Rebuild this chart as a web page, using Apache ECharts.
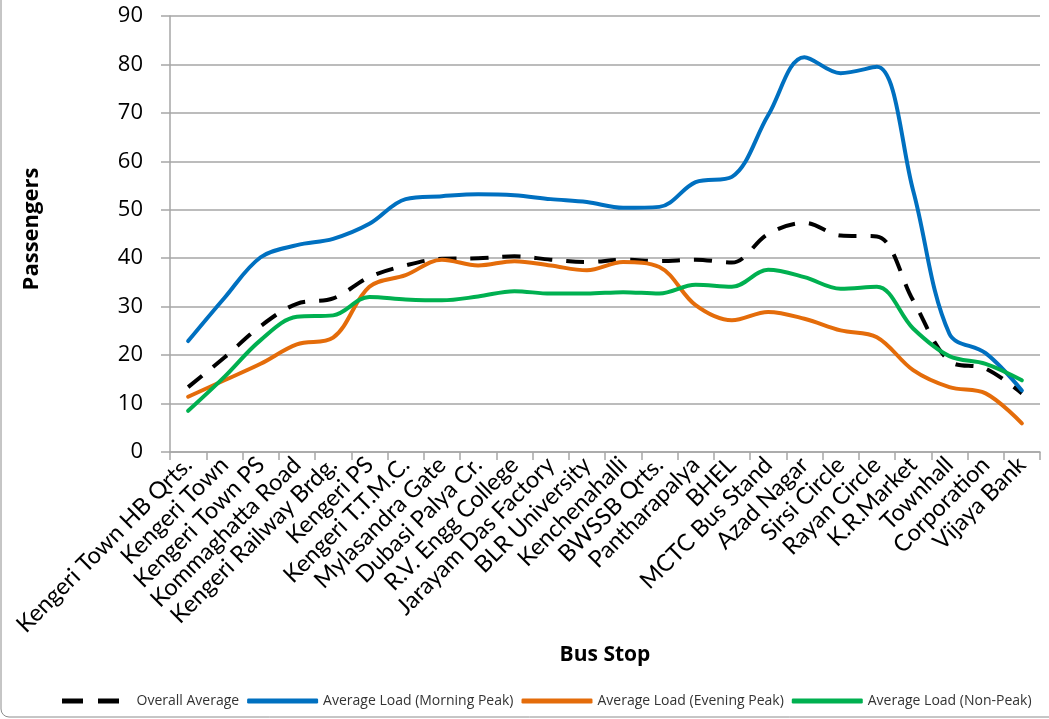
<!DOCTYPE html>
<html>
<head>
<meta charset="utf-8">
<script src="https://cdn.jsdelivr.net/npm/echarts@6/dist/echarts.min.js"></script>
<style>
  html, body { margin: 0; padding: 0; background: #fff; }
  #chart { width: 1049px; height: 719px; }
</style>
</head>
<body>
<div id="chart"></div>
<script>
// Bus stops along the route, in travel order
const busStops = [
  'Kengeri Town HB Qrts.', 'Kengeri Town', 'Kengeri Town PS', 'Kommaghatta Road',
  'Kengeri Railway Brdg.', 'Kengeri PS', 'Kengeri T.T.M.C.', 'Mylasandra Gate',
  'Dubasi Palya Cr.', 'R.V. Engg College', 'Jarayam Das Factory', 'BLR University',
  'Kenchenahalli', 'BWSSB Qrts.', 'Pantharapalya', 'BHEL', 'MCTC Bus Stand',
  'Azad Nagar', 'Sirsi Circle', 'Rayan Circle', 'K.R.Market', 'Townhall',
  'Corporation', 'Vijaya Bank'
];

// Average passenger load per stop
const overallAverage = [13.4, 19.5, 26, 30.6, 31.7, 36.1, 38.5, 39.9, 40.0, 40.4, 39.7, 39.2,
  39.7, 39.4, 39.7, 39.1, 45.0, 47.3, 44.7, 44.5, 31.3, 18.8, 17.2, 12.1];
const morningPeak = [22.9, 31.8, 40.2, 42.7, 44.0, 47.1, 52.2, 52.8, 53.2, 53.0, 52.2, 51.6,
  50.4, 50.6, 55.7, 56.8, 69.5, 81.5, 78.2, 79.5, 54.0, 24.4, 20.4, 12.7];
const eveningPeak = [11.4, 14.8, 18.2, 22.2, 23.6, 34.1, 36.5, 39.7, 38.5, 39.4, 38.5, 37.5,
  39.2, 38.2, 30.3, 27.2, 28.9, 27.5, 25.1, 23.7, 16.9, 13.4, 12.1, 5.9];
const nonPeak = [8.5, 15.5, 23.1, 27.9, 28.2, 32.0, 31.5, 31.3, 32.1, 33.2, 32.7, 32.7,
  33.0, 32.7, 34.5, 34.1, 37.6, 36.1, 33.7, 34.1, 25.5, 19.8, 18.2, 14.8];

const yTicks = { min: 0, max: 90, step: 10 };

const FONT = '"Open Sans", "Liberation Sans", sans-serif';
const LABEL_FONT = 'Lato, "Open Sans", sans-serif';
const GRID_COLOR = '#a6a6a6';

// Legend swatches: two short dashes (left-aligned in the swatch box) for the average,
// a rounded bar for the others
const DASH_ICON = 'path://M0,0h21v5h-21z M36,0h21v5h-21z M68,0L68,5';
const SOLID_ICON = 'roundRect';

const chart = echarts.init(document.getElementById('chart'), null, { renderer: 'canvas' });

function lineSeries(name, data, color, dashed) {
  return {
    name: name,
    type: 'line',
    data: data,
    smooth: 0.35,
    symbol: 'none',
    lineStyle: {
      color: color,
      width: 4,
      type: dashed ? [18, 14] : 'solid',
      cap: dashed ? 'butt' : 'round'
    },
    itemStyle: { color: color }
  };
}

chart.setOption({
  animation: false,
  backgroundColor: '#fff',
  graphic: [{
    type: 'rect',
    shape: { x: 1, y: -20, width: 1080, height: 737, r: 8 },
    style: { fill: 'none', stroke: '#8c8c8c', lineWidth: 1 },
    z: -1
  }],
  grid: { left: 170, right: 9, top: 16, bottom: 267, containLabel: false },
  legend: {
    bottom: 6,
    left: 57,
    right: 0,
    orient: 'horizontal',
    itemWidth: 71,
    itemHeight: 5,
    itemGap: 8,
    textStyle: { fontFamily: FONT, fontSize: 14, color: '#333333' },
    data: [
      { name: 'Overall Average', icon: DASH_ICON },
      { name: 'Average Load (Morning Peak)', icon: SOLID_ICON },
      { name: 'Average Load (Evening Peak)', icon: SOLID_ICON },
      { name: 'Average Load (Non-Peak)', icon: SOLID_ICON }
    ]
  },
  xAxis: {
    type: 'category',
    data: busStops,
    boundaryGap: true,
    name: 'Bus Stop',
    nameLocation: 'middle',
    nameGap: 178,
    nameTextStyle: { fontFamily: FONT, fontSize: 21, fontWeight: 'bold', color: '#000' },
    axisLine: { lineStyle: { color: GRID_COLOR, width: 1.5 } },
    axisTick: { show: true, length: 8, alignWithLabel: false, lineStyle: { color: GRID_COLOR, width: 1.5 } },
    axisLabel: {
      interval: 0,
      rotate: 45,
      margin: 9,
      fontFamily: LABEL_FONT,
      fontSize: 23.5,
      color: '#000'
    }
  },
  yAxis: {
    type: 'value',
    min: yTicks.min,
    max: yTicks.max,
    interval: yTicks.step,
    name: 'Passengers',
    nameLocation: 'middle',
    nameGap: 127,
    nameTextStyle: { fontFamily: FONT, fontSize: 22, fontWeight: 'bold', color: '#000', padding: [0, 0, 0, 10] },
    axisLine: { show: true, lineStyle: { color: GRID_COLOR, width: 1.5 } },
    axisTick: { show: true, length: 9, lineStyle: { color: GRID_COLOR, width: 1.5 } },
    axisLabel: { fontFamily: FONT, fontSize: 22, color: '#000', margin: 27 },
    splitLine: { lineStyle: { color: GRID_COLOR, width: 1.5 } }
  },
  series: [
    lineSeries('Overall Average', overallAverage, '#000000', true),
    lineSeries('Average Load (Morning Peak)', morningPeak, '#0070C0', false),
    lineSeries('Average Load (Evening Peak)', eveningPeak, '#E46C0A', false),
    lineSeries('Average Load (Non-Peak)', nonPeak, '#00B050', false)
  ]
});
</script>
</body>
</html>
